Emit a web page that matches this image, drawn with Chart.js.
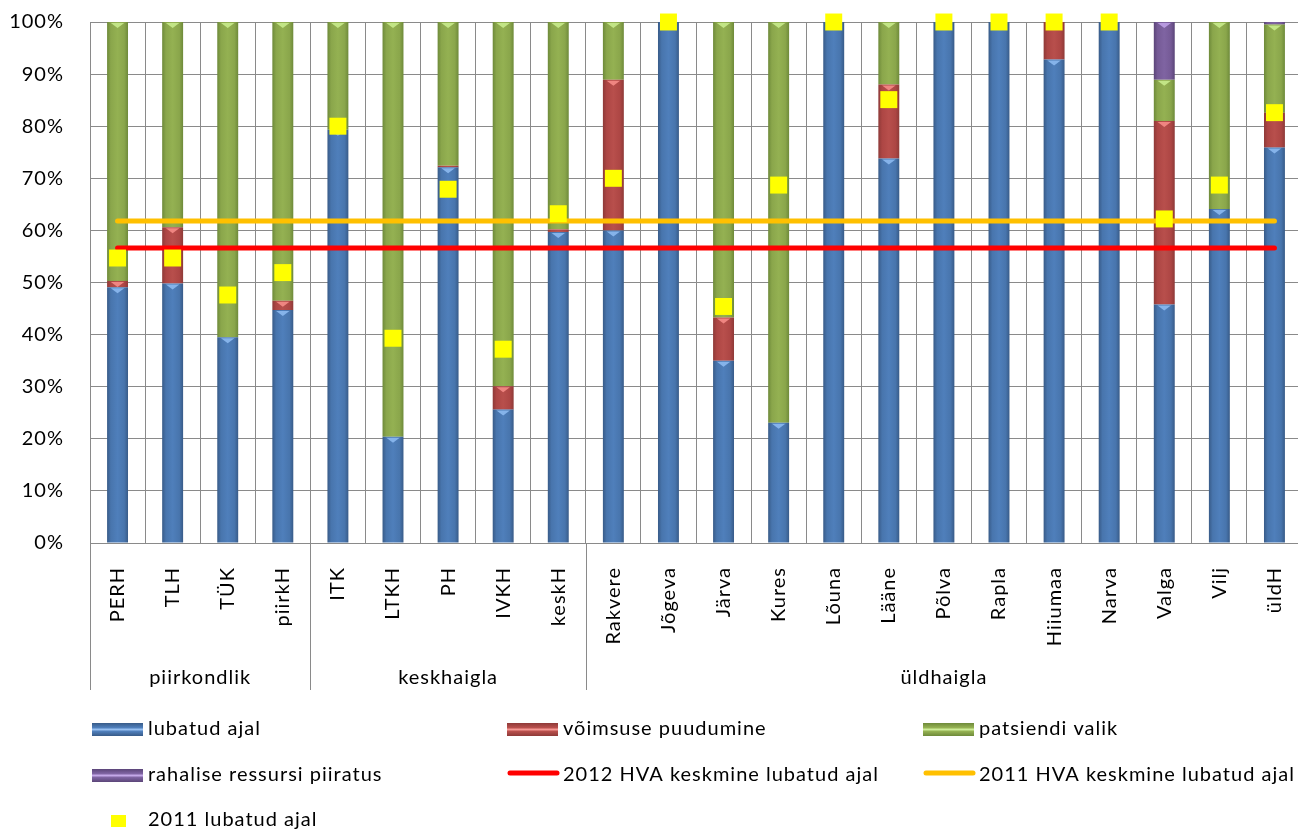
<!DOCTYPE html>
<html>
<head>
<meta charset="utf-8">
<script src="https://cdn.jsdelivr.net/npm/chart.js@4/dist/chart.umd.min.js"></script>
<style>
  html, body { margin: 0; padding: 0; background: #ffffff; overflow: hidden; }
  #wrap { position: relative; width: 1302px; height: 829px; }
</style>
</head>
<body>
<div id="wrap"><canvas id="chart" width="1302" height="829"></canvas></div>
<script>
// Haiglad (kategooriad) ja nende rühmad
const categories = ['PERH', 'TLH', 'TÜK', 'piirkH', 'ITK', 'LTKH', 'PH', 'IVKH', 'keskH',
  'Rakvere', 'Jõgeva', 'Järva', 'Kures', 'Lõuna', 'Lääne', 'Põlva', 'Rapla', 'Hiiumaa',
  'Narva', 'Valga', 'Vilj', 'üldH'];
const groupNames = ['piirkondlik', 'keskhaigla', 'üldhaigla'];
const groupFirstIndex = [0, 4, 9];

// Osakaalud (%) 2012
const lubatudAjal = [49.1, 49.8, 39.5, 44.7, 79.3, 20.4, 72.1, 25.6, 59.7, 60.0, 100, 35.0,
  23.1, 100, 73.8, 100, 100, 92.8, 100, 45.8, 64.1, 75.9];
const voimsusePuudumine = [1.2, 10.8, 0, 1.8, 0, 0, 0.3, 4.5, 0.5, 28.9, 0, 8.3,
  0, 0, 14.2, 0, 0, 7.2, 0, 35.2, 0, 6.7];
const patsiendiValik = [49.7, 39.4, 60.5, 53.5, 20.7, 79.6, 27.6, 69.9, 39.8, 11.1, 0, 56.7,
  76.9, 0, 12.0, 0, 0, 0, 0, 7.9, 35.9, 16.9];
const rahaliseRessursiPiiratus = [0, 0, 0, 0, 0, 0, 0, 0, 0, 0, 0, 0,
  0, 0, 0, 0, 0, 0, 0, 11.1, 0, 0.5];

// 2011 lubatud ajal (%)
const lubatudAjal2011 = [54.7, 54.7, 47.6, 51.9, 80.0, 39.3, 67.9, 37.2, 63.2, 70.0, 100, 45.4,
  68.7, 100, 85.1, 100, 100, 100, 100, 62.2, 68.7, 82.6];

// HVA keskmised
const hvaKeskmine2012 = 56.6;
const hvaKeskmine2011 = 61.8;

const yTicks = [0, 10, 20, 30, 40, 50, 60, 70, 80, 90, 100];

const FONT = 'Lato, "Open Sans", "Liberation Sans", sans-serif';
const FONT_SIZE = 20;
const BAR_FRACTION = 0.38;

const palette = {
  blue:   { edge: '#385b88', mid: '#4875ad', light: '#4f7fbb', tip: 'rgba(140,185,240,0.9)' },
  red:    { edge: '#8e3a38', mid: '#ad4644', light: '#b84f4c', tip: 'rgba(245,140,135,0.9)' },
  green:  { edge: '#6e8a3a', mid: '#8aa64b', light: '#94b152', tip: 'rgba(200,235,140,0.9)' },
  purple: { edge: '#5b4578', mid: '#755a96', light: '#7f64a2', tip: 'rgba(190,160,230,0.9)' }
};

function barFill(c) {
  return (ctx) => {
    const chart = ctx.chart;
    const xs = chart.scales && chart.scales.x;
    if (!xs || !chart.chartArea || ctx.type !== 'data') return c.mid;
    const cx = xs.getPixelForValue(ctx.dataIndex);
    const w = xs.width / categories.length * BAR_FRACTION;
    const g = chart.ctx.createLinearGradient(cx - w / 2, 0, cx + w / 2, 0);
    g.addColorStop(0, c.edge);
    g.addColorStop(0.18, c.mid);
    g.addColorStop(0.5, c.light);
    g.addColorStop(0.82, c.mid);
    g.addColorStop(1, c.edge);
    return g;
  };
}

function barDataset(label, data, c) {
  return {
    type: 'bar', label, data, stack: 'jaotus', order: 3,
    backgroundColor: barFill(c), borderWidth: 0,
    categoryPercentage: 1, barPercentage: BAR_FRACTION,
    swatch: c
  };
}

const first = categories[0], last = categories[categories.length - 1];

const datasets = [
  barDataset('lubatud ajal', lubatudAjal, palette.blue),
  barDataset('võimsuse puudumine', voimsusePuudumine, palette.red),
  barDataset('patsiendi valik', patsiendiValik, palette.green),
  barDataset('rahalise ressursi piiratus', rahaliseRessursiPiiratus, palette.purple),
  {
    type: 'line', label: '2012 HVA keskmine lubatud ajal', stack: 'k2012', order: 2,
    data: [{ x: first, y: hvaKeskmine2012 }, { x: last, y: hvaKeskmine2012 }],
    borderColor: '#ff0000', borderWidth: 5, borderCapStyle: 'round',
    pointRadius: 0, fill: false, tension: 0
  },
  {
    type: 'line', label: '2011 HVA keskmine lubatud ajal', stack: 'k2011', order: 2,
    data: [{ x: first, y: hvaKeskmine2011 }, { x: last, y: hvaKeskmine2011 }],
    borderColor: '#ffc000', borderWidth: 5, borderCapStyle: 'round',
    pointRadius: 0, fill: false, tension: 0
  },
  {
    type: 'line', label: '2011 lubatud ajal', stack: 'l2011', order: 1,
    data: lubatudAjal2011, showLine: false, clip: false,
    pointStyle: 'rect', pointRadius: 12, pointHoverRadius: 12,
    pointBackgroundColor: '#ffff00', pointBorderWidth: 0, borderColor: '#ffff00'
  }
];

// Tähevahe kogu joonise tekstile
const spacingPlugin = {
  id: 'spacing',
  beforeDraw(chart) { chart.ctx.letterSpacing = '1px'; }
};

// Segmendi ülaserva väike kolmnurkne helk
const bevelPlugin = {
  id: 'bevel',
  afterDatasetDraw(chart, args) {
    const ds = chart.data.datasets[args.index];
    if (ds.type !== 'bar') return;
    const ctx = chart.ctx;
    ctx.save();
    ctx.fillStyle = ds.swatch.tip;
    args.meta.data.forEach((el) => {
      const h = Math.abs(el.base - el.y);
      if (h < 3) return;
      const hw = el.width * 0.32;
      const th = Math.min(5, h - 1);
      ctx.beginPath();
      ctx.moveTo(el.x - hw, el.y + 1);
      ctx.lineTo(el.x + hw, el.y + 1);
      ctx.lineTo(el.x, el.y + 1 + th);
      ctx.closePath();
      ctx.fill();
    });
    ctx.restore();
  }
};

// Rühmade sildid, eraldusjooned ja legend
const decorPlugin = {
  id: 'decor',
  afterDraw(chart) {
    const ctx = chart.ctx;
    const xs = chart.scales.x;
    const area = chart.chartArea;
    const step = xs.width / categories.length;
    ctx.save();
    ctx.letterSpacing = '1px';

    // rühmade eraldusjooned telje all
    const bounds = groupFirstIndex.concat([categories.length]);
    ctx.strokeStyle = '#8a8a8a';
    ctx.lineWidth = 1;
    bounds.forEach((i) => {
      const x = Math.round(xs.getPixelForValue(i) - step / 2) + 0.5;
      ctx.beginPath();
      ctx.moveTo(x, area.bottom);
      ctx.lineTo(x, 690);
      ctx.stroke();
    });

    // rühmade nimed
    ctx.fillStyle = '#000000';
    ctx.font = FONT_SIZE + 'px ' + FONT;
    ctx.textAlign = 'center';
    ctx.textBaseline = 'middle';
    groupNames.forEach((name, g) => {
      const a = xs.getPixelForValue(bounds[g]) - step / 2;
      const b = xs.getPixelForValue(bounds[g + 1]) - step / 2;
      ctx.fillText(name, (a + b) / 2, 678);
    });

    // legend
    const ds = chart.data.datasets;
    const cols = [92, 507, 923];
    const rows = [729, 775, 820];
    const cells = [[0, 0], [1, 0], [2, 0], [0, 1], [1, 1], [2, 1], [0, 2]];
    ctx.textAlign = 'left';
    ds.forEach((d, i) => {
      const x = cols[cells[i][0]], y = rows[cells[i][1]];
      if (d.type === 'bar') {
        const c = d.swatch;
        const g = ctx.createLinearGradient(0, y - 6, 0, y + 7);
        g.addColorStop(0, c.edge);
        g.addColorStop(0.35, c.light);
        g.addColorStop(0.5, c.tip);
        g.addColorStop(0.65, c.light);
        g.addColorStop(1, c.edge);
        ctx.fillStyle = g;
        ctx.fillRect(x, y - 6, 51, 13);
      } else if (d.showLine === false) {
        ctx.fillStyle = d.pointBackgroundColor;
        ctx.fillRect(x + 19, y - 5, 15, 12);
      } else {
        ctx.strokeStyle = d.borderColor;
        ctx.lineWidth = 5;
        ctx.lineCap = 'round';
        ctx.beginPath();
        ctx.moveTo(x + 3, y - 2);
        ctx.lineTo(x + 50, y - 2);
        ctx.stroke();
      }
      ctx.fillStyle = '#000000';
      ctx.fillText(d.label, x + 56, y);
    });
    ctx.restore();
  }
};

new Chart(document.getElementById('chart'), {
  data: { labels: categories, datasets },
  options: {
    responsive: false,
    animation: false,
    devicePixelRatio: 1,
    layout: { autoPadding: false, padding: { top: 22, right: 0, left: 0, bottom: 0 } },
    plugins: { legend: { display: false }, tooltip: { enabled: false } },
    scales: {
      x: {
        stacked: true,
        offset: true,
        afterFit: (s) => { s.height = 286; s.paddingLeft = 0; s.paddingRight = 0; },
        grid: { offset: true, color: '#8a8a8a', lineWidth: 1, drawTicks: false },
        border: { color: '#8a8a8a' },
        ticks: {
          autoSkip: false, minRotation: 90, maxRotation: 90, padding: 24,
          color: '#000000', font: { family: FONT, size: FONT_SIZE }
        }
      },
      y: {
        stacked: true,
        min: 0, max: 100,
        afterFit: (s) => { s.width = 90; s.paddingTop = 0; s.paddingBottom = 0; },
        afterBuildTicks: (s) => { s.ticks = yTicks.map((v) => ({ value: v })); },
        grid: { color: '#8a8a8a', lineWidth: 1, drawTicks: false },
        border: { color: '#8a8a8a' },
        ticks: {
          padding: 26, color: '#000000', font: { family: FONT, size: FONT_SIZE },
          callback: (v) => v + '%'
        }
      }
    }
  },
  plugins: [spacingPlugin, bevelPlugin, decorPlugin]
});
</script>
</body>
</html>
